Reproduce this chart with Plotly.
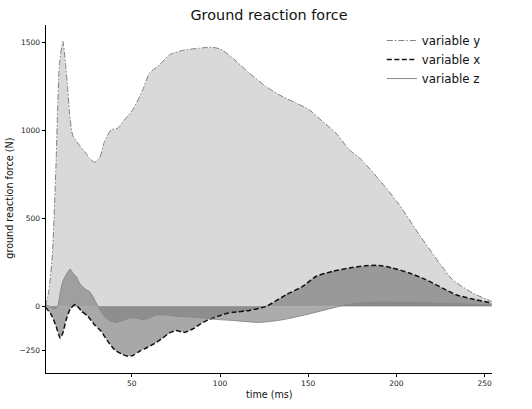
import plotly.graph_objects as go

# ---- data ----
t_y = [1, 3, 5, 7, 9, 10.9, 12.4, 13.7, 14.7, 16.5, 20.3, 23.2, 26, 28.8, 31.7, 34.5, 38.3, 42,
       45.8, 50.5, 56.2, 60, 65.7, 71.3, 79.8, 88.3, 95, 100.6, 107.2, 116.7, 126.1, 133.6,
       143.1, 150.6, 158.2, 165.8, 173.3, 179, 190.3, 201.6, 213, 224.3, 231.8, 243.2, 254]
var_y = [0, 90, 300, 800, 1380, 1505, 1382, 1230, 1097, 972, 915, 880, 842, 819, 842, 936, 1003, 1012,
         1060, 1116, 1230, 1325, 1372, 1429, 1457, 1467, 1473, 1461, 1410, 1325, 1249, 1202,
         1155, 1117, 1050, 984, 889, 844, 719, 577, 406, 247, 151, 75, 27]

t_x = [1, 4.3, 7.1, 9.4, 10.9, 12.8, 15.1, 18.1, 21.3, 25.1, 28.8, 32.6, 36.4, 40.2, 43.9, 47.7,
       50.5, 54.3, 58.1, 62.8, 67.5, 71.3, 75.1, 79.8, 84.5, 89.3, 94, 98.7, 103.5, 107.2, 116.7,
       126.1, 137.5, 146.9, 154.4, 163.9, 173.3, 182.7, 190.3, 197.8, 207.3, 216.7, 226.2, 233.7,
       243.2, 254]
var_x = [-5, -48, -115, -181, -152, -77, -16, 9, -26, -58, -105, -143, -200, -247, -270, -285,
         -281, -257, -238, -213, -181, -152, -139, -149, -130, -99, -75, -58, -42, -35, -24,
         -1, 65, 113, 169, 198, 217, 230, 232, 217, 189, 151, 103, 65, 41, 18]

t_z = [1, 3.5, 6.2, 8, 9.4, 10.9, 12.8, 15.1, 16.5, 18.5, 20.3, 21.9, 24.1, 26, 27.9, 29.8, 31.7,
       34.5, 37.3, 41.1, 44.9, 48.7, 52.5, 56.2, 60, 63.8, 69.5, 75.1, 82.7, 90.2, 97.8, 107.2,
       122.3, 135.5, 148.8, 160, 171.4, 182.7, 194.1, 205.4, 220.5, 239.4, 254]
var_z = [8, 0, -16, 0, 75, 141, 179, 211, 189, 169, 132, 113, 94, 84, 56, 18, -16,
         -58, -81, -92, -81, -69, -67, -77, -67, -50, -50, -58, -61, -67, -75, -81,
         -92, -77, -48, -20, 8, 22, 24, 22, 18, 12, 8]

series_names = ["variable y", "variable x", "variable z"]
x_ticks = [50, 100, 150, 200, 250]
y_ticks = [-250, 0, 500, 1000, 1500]
y_tick_text = ["\u2212250", "0", "500", "1000", "1500"]

FONT = "DejaVu Sans"

series = [(t_y, var_y), (t_x, var_x), (t_z, var_z)]
fills = ["rgba(128,128,128,0.30)", "rgba(110,110,110,0.60)", "rgba(128,128,128,0.65)"]
lines = [dict(color="#808080", width=1, dash="6px,2px,1.5px,2px"),
         dict(color="#111111", width=1.5, dash="5px,2.5px"),
         dict(color="#8a8a8a", width=1)]

fig = go.Figure()
# filled areas (to zero), drawn first
for (tt, vv), fc in zip(series, fills):
    fig.add_trace(go.Scatter(x=tt, y=vv, mode="none", fill="tozeroy", fillcolor=fc,
                             line=dict(shape="spline", smoothing=0.6), showlegend=False,
                             hoverinfo="skip"))
# lines on top, shown in legend
for (tt, vv), name, ln in zip(series, series_names, lines):
    fig.add_trace(go.Scatter(x=tt, y=vv, mode="lines", name=name,
                             line=dict(shape="spline", smoothing=0.6, **ln)))

axis_common = dict(showgrid=False, zeroline=False, showline=True, linecolor="#000000",
                   linewidth=0.9, ticks="outside", ticklen=3.5, tickwidth=0.9,
                   tickcolor="#000000", tickfont=dict(family=FONT, size=7.5, color="#222222"),
                   mirror=False)

fig.update_layout(
    width=532, height=409,
    margin=dict(l=46, r=40, t=25, b=36),
    paper_bgcolor="white", plot_bgcolor="white",
    font=dict(family=FONT, color="#222222"),
    title=dict(text="Ground reaction force", x=0.5, xref="paper", y=(409 - 15) / 409,
               yanchor="middle", xanchor="center",
               font=dict(family=FONT, size=14.4, color="#111111")),
    xaxis=dict(range=[1.35, 254.2], tickvals=x_ticks, **axis_common),
    yaxis=dict(range=[-380, 1599], tickvals=y_ticks, ticktext=y_tick_text, **axis_common),
    showlegend=True,
    legend=dict(x=0.753, y=0.997, xanchor="left", yanchor="top", bgcolor="rgba(0,0,0,0)",
                font=dict(family=FONT, size=11.8, color="#111111"), tracegroupgap=0),
    annotations=[
        dict(text="time (ms)", x=0.5, y=(373 - 394) / 348, xref="paper", yref="paper",
             showarrow=False, xanchor="center", yanchor="middle",
             font=dict(family=FONT, size=9.6, color="#111111")),
        dict(text="ground reaction force (N)", x=(10 - 46) / 446, y=0.501, xref="paper",
             yref="paper", showarrow=False, textangle=-90, xanchor="center",
             yanchor="middle", font=dict(family=FONT, size=9.6, color="#111111")),
    ],
)

fig.write_html("out.html")
